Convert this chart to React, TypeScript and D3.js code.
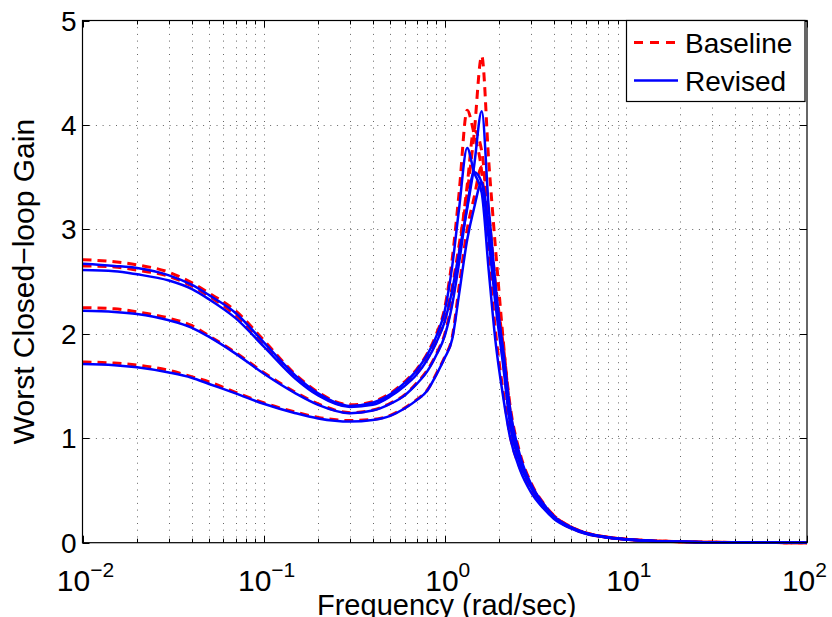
import React from "react";
import * as d3 from "d3";

const freqs = [0.01, 0.015, 0.02, 0.03, 0.04, 0.05, 0.07, 0.1, 0.15, 0.2, 0.3, 0.4, 0.5, 0.6, 0.7, 0.8, 0.9, 1.0, 1.1, 1.2, 1.33, 1.45, 1.6, 1.75, 1.9, 2.1, 2.3, 2.6, 3.0, 3.5, 4, 5, 6, 8, 10, 15, 20, 30, 50, 100];

const baselineA = [2.71, 2.69, 2.66, 2.59, 2.49, 2.39, 2.22, 1.94, 1.61, 1.44, 1.32, 1.35, 1.43, 1.54, 1.66, 1.81, 2.0, 2.25, 2.72, 3.35, 4.14, 3.92, 3.55, 2.75, 2.05, 1.45, 1.02, 0.72, 0.5, 0.34, 0.24, 0.14, 0.09, 0.05, 0.033, 0.015, 0.009, 0.004, 0.0015, 0.0004];
const revisedA = [2.67, 2.65, 2.63, 2.56, 2.47, 2.37, 2.2, 1.92, 1.6, 1.43, 1.31, 1.34, 1.42, 1.53, 1.65, 1.8, 1.98, 2.22, 2.65, 3.2, 3.78, 3.55, 3.35, 2.6, 1.95, 1.4, 1.0, 0.7, 0.48, 0.33, 0.23, 0.135, 0.085, 0.048, 0.031, 0.014, 0.008, 0.0035, 0.0013, 0.0003];
const baselineB = [2.65, 2.64, 2.61, 2.55, 2.46, 2.36, 2.18, 1.9, 1.58, 1.42, 1.31, 1.33, 1.41, 1.51, 1.62, 1.76, 1.93, 2.14, 2.45, 2.85, 3.35, 3.9, 4.66, 3.65, 2.85, 1.95, 1.25, 0.8, 0.55, 0.37, 0.26, 0.15, 0.095, 0.052, 0.034, 0.016, 0.0095, 0.0042, 0.0016, 0.0004];
const revisedB = [2.61, 2.6, 2.57, 2.51, 2.43, 2.33, 2.15, 1.88, 1.57, 1.41, 1.3, 1.32, 1.4, 1.5, 1.61, 1.75, 1.92, 2.12, 2.42, 2.78, 3.2, 3.6, 4.13, 3.2, 2.5, 1.8, 1.18, 0.77, 0.53, 0.36, 0.25, 0.145, 0.092, 0.05, 0.033, 0.015, 0.009, 0.004, 0.0015, 0.0004];
const baselineC = [2.25, 2.24, 2.21, 2.15, 2.08, 1.98, 1.82, 1.63, 1.44, 1.33, 1.245, 1.27, 1.335, 1.415, 1.53, 1.65, 1.81, 2.0, 2.32, 2.78, 3.42, 3.95, 3.75, 3.05, 2.4, 1.75, 1.15, 0.78, 0.54, 0.36, 0.25, 0.145, 0.092, 0.05, 0.033, 0.015, 0.009, 0.004, 0.0015, 0.0004];
const revisedC = [2.22, 2.21, 2.19, 2.13, 2.06, 1.97, 1.81, 1.62, 1.43, 1.32, 1.24, 1.265, 1.33, 1.41, 1.52, 1.64, 1.8, 1.98, 2.28, 2.68, 3.22, 3.55, 3.45, 2.9, 2.3, 1.7, 1.12, 0.76, 0.53, 0.355, 0.245, 0.142, 0.09, 0.049, 0.032, 0.015, 0.009, 0.004, 0.0015, 0.0004];
const baselineD = [1.73, 1.72, 1.70, 1.65, 1.59, 1.54, 1.44, 1.34, 1.25, 1.2, 1.17, 1.18, 1.22, 1.29, 1.37, 1.46, 1.62, 1.78, 1.97, 2.45, 3.0, 3.3, 3.6, 3.15, 2.5, 1.9, 1.3, 0.86, 0.57, 0.38, 0.26, 0.15, 0.095, 0.052, 0.034, 0.016, 0.0095, 0.0042, 0.0016, 0.0004];
const revisedD = [1.71, 1.70, 1.68, 1.63, 1.58, 1.52, 1.43, 1.33, 1.24, 1.19, 1.16, 1.175, 1.215, 1.285, 1.365, 1.455, 1.61, 1.77, 1.95, 2.38, 2.9, 3.2, 3.45, 3.0, 2.4, 1.85, 1.27, 0.84, 0.56, 0.375, 0.255, 0.148, 0.093, 0.051, 0.033, 0.015, 0.009, 0.004, 0.0015, 0.0004];

const baselineSeries = [baselineA, baselineB, baselineC, baselineD];
const revisedSeries = [revisedA, revisedB, revisedC, revisedD];

const xTickExps = [-2, -1, 0, 1, 2];
const yTicks = [0, 1, 2, 3, 4, 5];
const legendLabels = ["Baseline", "Revised"];

const W = 832, H = 617;
const L = 82.5, R = 807, T = 20.5, B = 542.7;
const FONT = "'Liberation Sans', Arial, Helvetica, sans-serif";

export default function App() {
  const x = d3.scaleLog().domain([0.01, 100]).range([L, R]);
  const y = d3.scaleLinear().domain([0, 5]).range([B, T]);
  const line = d3
    .line<number>()
    .x((_, i) => x(freqs[i]))
    .y((d) => y(d))
    .curve(d3.curveMonotoneX);

  const minorTicks: number[] = [];
  for (let e = -2; e < 2; e++) {
    for (let m = 1; m <= 9; m++) minorTicks.push(m * Math.pow(10, e));
  }
  minorTicks.push(100);

  const gridStyle = { stroke: "#333", strokeWidth: 1, strokeDasharray: "1,5.7", opacity: 0.75 };

  const baseFs = 30, expFs = 21;

  return (
    <div style={{ position: "fixed", left: 0, top: 0 }}>
      <svg width={W} height={H} style={{ display: "block", background: "#fff" }}>
        <rect x={0} y={0} width={W} height={H} fill="#fff" />
        {/* grid */}
        {minorTicks
          .filter((f) => f > 0.01 && f < 100)
          .map((f, i) => (
            <line key={"gx" + i} x1={Math.round(x(f)) + 0.5} x2={Math.round(x(f)) + 0.5} y1={T} y2={B} {...gridStyle} />
          ))}
        {yTicks
          .filter((v) => v > 0 && v < 5)
          .map((v) => (
            <line key={"gy" + v} x1={L} x2={R} y1={Math.round(y(v)) + 0.5} y2={Math.round(y(v)) + 0.5} {...gridStyle} />
          ))}
        {/* ticks */}
        {minorTicks.map((f, i) => {
          const major = Math.abs(Math.log10(f) - Math.round(Math.log10(f))) < 1e-9;
          const len = major ? 7 : 4;
          const xx = Math.round(x(f)) + 0.5;
          return (
            <g key={"tx" + i} stroke="#000" strokeWidth={1}>
              <line x1={xx} x2={xx} y1={B} y2={B - len} />
              <line x1={xx} x2={xx} y1={T} y2={T + len} />
            </g>
          );
        })}
        {yTicks.map((v) => {
          const yy = Math.round(y(v)) + 0.5;
          return (
            <g key={"ty" + v} stroke="#000" strokeWidth={1}>
              <line x1={L} x2={L + 7} y1={yy} y2={yy} />
              <line x1={R} x2={R - 7} y1={yy} y2={yy} />
            </g>
          );
        })}
        {/* data */}
        <g fill="none">
          {baselineSeries.map((s, i) => (
            <path key={"b" + i} d={line(s) || ""} stroke="#ff0000" strokeWidth={3} strokeDasharray="9,6" />
          ))}
          {revisedSeries.map((s, i) => (
            <path key={"r" + i} d={line(s) || ""} stroke="#0000ff" strokeWidth={2.5} />
          ))}
        </g>
        {/* axes box */}
        <rect x={L} y={T} width={R - L} height={B - T} fill="none" stroke="#000" strokeWidth={1.2} />
        {/* y tick labels */}
        {yTicks.map((v) => (
          <text key={"yl" + v} x={76.5} y={y(v) + 10} textAnchor="end" fontFamily={FONT} fontSize={28} fill="#000">
            {v}
          </text>
        ))}
        {/* x tick labels */}
        {xTickExps.map((e) => {
          const expText = e < 0 ? "\u2212" + Math.abs(e) : String(e);
          const wApprox = baseFs * 1.112 + expFs * (e < 0 ? 1.14 : 0.556);
          const cx = Math.min(x(Math.pow(10, e)) + 3, W - 5 - wApprox / 2);
          return (
            <text key={"xl" + e} x={cx} y={591} textAnchor="middle" fontFamily={FONT} fontSize={baseFs} fill="#000">
              <tspan>10</tspan>
              <tspan dy={-14} fontSize={expFs}>{expText}</tspan>
            </text>
          );
        })}
        {/* axis labels */}
        <text x={(L + R) / 2 + 2} y={615} textAnchor="middle" fontFamily={FONT} fontSize={29} fill="#000">
          Frequency (rad/sec)
        </text>
        <text
          transform={`translate(34,${(T + B) / 2}) rotate(-90)`}
          textAnchor="middle"
          fontFamily={FONT}
          fontSize={30}
          fill="#000"
        >
          Worst Closed−loop Gain
        </text>
        {/* legend */}
        <g>
          <rect x={626.5} y={20.5} width={178.5} height={81} fill="#fff" stroke="#000" strokeWidth={1.2} />
          <line x1={634} x2={678} y1={42.5} y2={42.5} stroke="#ff0000" strokeWidth={3} strokeDasharray="9,7" />
          <text x={685} y={53} fontFamily={FONT} fontSize={28} fill="#000">{legendLabels[0]}</text>
          <line x1={634} x2={678} y1={80.5} y2={80.5} stroke="#0000ff" strokeWidth={2.5} />
          <text x={685} y={91} fontFamily={FONT} fontSize={28} fill="#000">{legendLabels[1]}</text>
        </g>
      </svg>
    </div>
  );
}
